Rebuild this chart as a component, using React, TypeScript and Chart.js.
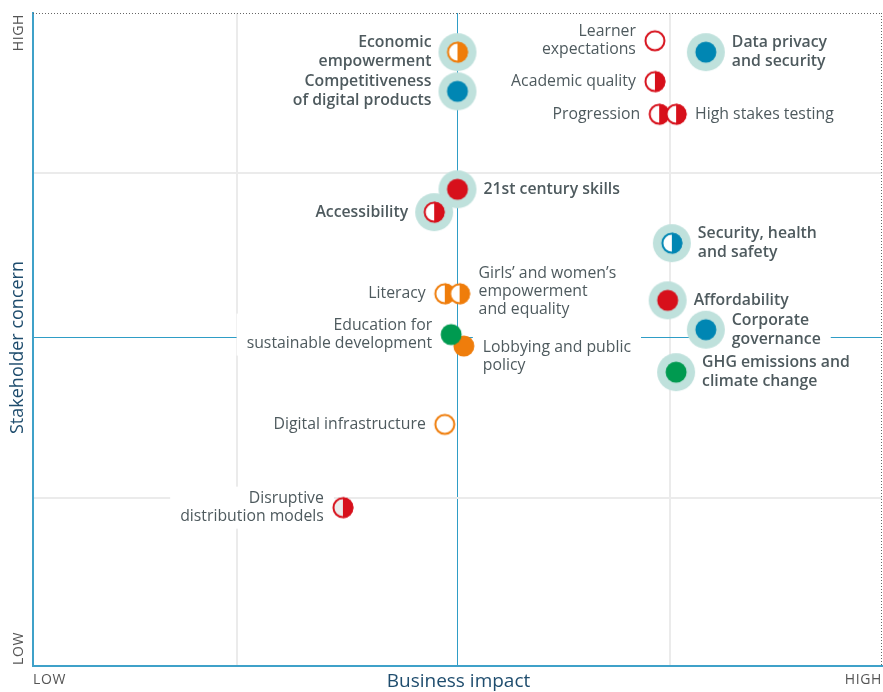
import React, { useEffect, useRef } from "react";
import { Chart, registerables } from "chart.js";

Chart.register(...registerables);

// ---- data ----
const topics: string[] = [
  "Economic\nempowerment",
  "Competitiveness\nof digital products",
  "Learner\nexpectations",
  "Data privacy\nand security",
  "Academic quality",
  "Progression",
  "High stakes testing",
  "21st century skills",
  "Accessibility",
  "Security, health\nand safety",
  "Literacy",
  "Girls’ and women’s\nempowerment\nand equality",
  "Affordability",
  "Corporate\ngovernance",
  "Lobbying and public\npolicy",
  "Education for\nsustainable development",
  "GHG emissions and\nclimate change",
  "Digital infrastructure",
  "Disruptive\ndistribution models",
];
const businessImpact: number[] = [
  2.0, 2.0, 2.93, 3.17, 2.93, 2.95, 3.03, 2.0, 1.89, 3.01, 1.94, 2.01, 2.99, 3.17, 2.03, 1.97, 3.03, 1.94, 1.46,
];
const stakeholderConcern: number[] = [
  3.76, 3.52, 3.83, 3.76, 3.58, 3.38, 3.38, 2.92, 2.78, 2.59, 2.28, 2.28, 2.24, 2.06, 1.96, 2.03, 1.80, 1.48, 0.97,
];
// theme of each topic
const topicTheme: string[] = [
  "orange", "blue", "red", "blue", "red", "red", "red", "red", "red", "blue",
  "orange", "orange", "red", "blue", "orange", "green", "green", "orange", "red",
];
// marker kind
const topicMarker: string[] = [
  "half", "full", "hollow", "full", "half", "half", "half", "full", "half", "half",
  "half", "half", "full", "full", "full", "full", "full", "hollow", "half",
];
// material (priority) topics
const topicPriority: boolean[] = [
  true, true, false, true, false, false, false, true, true, true,
  false, false, true, true, false, false, true, false, false,
];
// side of the label relative to the marker
const labelSide: string[] = [
  "left", "left", "left", "right", "left", "left", "right", "right", "left", "right",
  "left", "right", "right", "right", "right", "left", "right", "left", "left",
];
const labelShift: number[] = [
  0, 0, 0, 0, 0, 0, 0, 0, 0, 0, 0, -2, 0, 0, 10, 0, 0, 0, 0,
];
const xGridValues: number[] = [0, 0.963, 2, 3, 4];
const yGridValues: number[] = [0, 1.03, 2.015, 3.02, 4];

// ---- styles ----
const THEME: Record<string, string> = {
  red: "#d7101b",
  orange: "#ef7d0b",
  blue: "#0086b3",
  green: "#009a50",
};
const HALO = "#bfe1dc";
const GRID_GRAY = "#ebebeb";
const CENTER_BLUE = "#2f9dc6";
const TEXT = "#4e5a5e";
const FONT = "'Open Sans', 'Noto Sans', sans-serif";
const W = 883;
const H = 692;

function makeMarker(color: string, kind: string, halo: boolean, leftFill: string): HTMLCanvasElement {
  const size = halo ? 40 : 24;
  const c = document.createElement("canvas");
  c.width = size;
  c.height = size;
  const g = c.getContext("2d")!;
  const m = size / 2;
  if (halo) {
    g.beginPath();
    g.arc(m, m, 19, 0, Math.PI * 2);
    g.fillStyle = HALO;
    g.fill();
  }
  if (kind === "full") {
    g.beginPath();
    g.arc(m, m, 10.5, 0, Math.PI * 2);
    g.fillStyle = color;
    g.fill();
  } else if (kind === "hollow") {
    g.beginPath();
    g.arc(m, m, 9.5, 0, Math.PI * 2);
    g.fillStyle = "#ffffff";
    g.fill();
    g.lineWidth = 2;
    g.strokeStyle = color;
    g.stroke();
  } else {
    g.beginPath();
    g.arc(m, m, 9.5, 0, Math.PI * 2);
    g.fillStyle = leftFill;
    g.fill();
    g.beginPath();
    g.moveTo(m, m);
    g.arc(m, m, 10.5, -Math.PI / 2, Math.PI / 2);
    g.closePath();
    g.fillStyle = color;
    g.fill();
    g.beginPath();
    g.arc(m, m, 9.5, 0, Math.PI * 2);
    g.lineWidth = 2;
    g.strokeStyle = color;
    g.stroke();
  }
  return c;
}

function labelFont(i: number) {
  return topicPriority[i] ? `600 15.8px ${FONT}` : `15.8px ${FONT}`;
}
function lineH(i: number) {
  return topicPriority[i] ? 19 : 18;
}

function labelBoxes(chart: any) {
  const meta = chart.getDatasetMeta(0);
  const ctx = chart.ctx;
  const out: any[] = [];
  topics.forEach((t, i) => {
    const el = meta.data[i];
    if (!el) return;
    const lines = t.split("\n");
    ctx.font = labelFont(i);
    const w = Math.max(...lines.map((l) => ctx.measureText(l).width));
    const off = topicPriority[i] ? 26 : 19;
    const lh = lineH(i);
    const h = lines.length * lh;
    const top = el.y - h / 2 + labelShift[i];
    const right = labelSide[i] === "right";
    const x = right ? el.x + off : el.x - off;
    const left = right ? x : x - w;
    out.push({ i, lines, x, top, lh, w, h, left, right });
  });
  return out;
}

const labelPlugin = {
  id: "topicLabels",
  beforeDatasetsDraw(chart: any) {
    const ctx = chart.ctx;
    ctx.save();
    ctx.fillStyle = "#ffffff";
    labelBoxes(chart).forEach((b) => {
      ctx.fillRect(b.left - 10, b.top - 3, b.w + 20, b.h + 6);
    });
    ctx.restore();
  },
  afterDatasetsDraw(chart: any) {
    const ctx = chart.ctx;
    ctx.save();
    ctx.fillStyle = TEXT;
    ctx.textBaseline = "middle";
    labelBoxes(chart).forEach((b) => {
      ctx.font = labelFont(b.i);
      ctx.textAlign = b.right ? "left" : "right";
      b.lines.forEach((l: string, k: number) => {
        ctx.fillText(l, b.x, b.top + b.lh * (k + 0.5));
      });
    });
    ctx.restore();
  },
  afterDraw(chart: any) {
    const { ctx, chartArea } = chart;
    const { left, right, top, bottom } = chartArea;
    ctx.save();
    // dotted top & right frame
    ctx.strokeStyle = "#666666";
    ctx.lineWidth = 1;
    ctx.setLineDash([1, 2]);
    ctx.beginPath();
    ctx.moveTo(left, top + 0.5);
    ctx.lineTo(right, top + 0.5);
    ctx.moveTo(right - 0.5, top);
    ctx.lineTo(right - 0.5, bottom);
    ctx.stroke();
    ctx.setLineDash([]);

    // axis end labels
    ctx.fillStyle = "#555555";
    ctx.font = `14px ${FONT}`;
    try {
      (ctx as any).letterSpacing = "0.6px";
    } catch (e) {}
    ctx.textBaseline = "middle";
    ctx.textAlign = "left";
    ctx.fillText("LOW", left, 680);
    ctx.textAlign = "right";
    ctx.fillText("HIGH", right, 680);

    ctx.save();
    ctx.translate(19, top);
    ctx.rotate(-Math.PI / 2);
    ctx.textAlign = "right";
    ctx.fillText("HIGH", -1, 0);
    ctx.restore();
    ctx.save();
    ctx.translate(19, bottom);
    ctx.rotate(-Math.PI / 2);
    ctx.textAlign = "left";
    ctx.fillText("LOW", 1, 0);
    ctx.restore();
    try {
      (ctx as any).letterSpacing = "0px";
    } catch (e) {}

    // axis titles
    ctx.fillStyle = "#1f4d6e";
    ctx.font = `19px ${FONT}`;
    ctx.textAlign = "center";
    ctx.fillText("Business impact", (left + right) / 2 + 1, 682);
    ctx.font = `18px ${FONT}`;
    ctx.save();
    ctx.translate(18, (top + bottom) / 2 + 8);
    ctx.rotate(-Math.PI / 2);
    ctx.fillText("Stakeholder concern", 0, 0);
    ctx.restore();
    ctx.restore();
  },
};

function gridColor(idx: number) {
  if (idx === 0 || idx === 4) return "rgba(0,0,0,0)";
  return idx === 2 ? CENTER_BLUE : GRID_GRAY;
}
function gridWidth(idx: number) {
  return idx === 2 ? 1 : 2;
}

export default function App() {
  const ref = useRef<HTMLCanvasElement | null>(null);
  useEffect(() => {
    if (!ref.current) return;
    const styles = topics.map((_, i) =>
      makeMarker(
        THEME[topicTheme[i]],
        topicMarker[i],
        topicPriority[i],
        i === topics.length - 1 ? "#ececec" : "#ffffff"
      )
    );
    const chart = new Chart(ref.current, {
      type: "scatter",
      data: {
        datasets: [
          {
            label: "Topics",
            data: topics.map((_, i) => ({ x: businessImpact[i], y: stakeholderConcern[i] })),
            pointStyle: styles as any,
            pointRadius: 10,
            clip: false as any,
          },
        ],
      },
      options: {
        animation: false,
        responsive: false,
        events: [],
        layout: { autoPadding: false, padding: { left: 33, right: 1, top: 13, bottom: 26 } },
        plugins: { legend: { display: false }, tooltip: { enabled: false } },
        scales: {
          x: {
            type: "linear",
            min: 0,
            max: 4,
            afterBuildTicks: (s: any) => {
              s.ticks = xGridValues.map((v) => ({ value: v }));
            },
            ticks: { display: false },
            border: { display: true, color: "#3fa1c9", width: 2 },
            grid: {
              drawTicks: false,
              color: (c: any) => gridColor(c.index),
              lineWidth: (c: any) => gridWidth(c.index),
            },
          },
          y: {
            type: "linear",
            min: 0,
            max: 4,
            afterBuildTicks: (s: any) => {
              s.ticks = yGridValues.map((v) => ({ value: v }));
            },
            ticks: { display: false },
            border: { display: true, color: "#3fa1c9", width: 2 },
            grid: {
              drawTicks: false,
              color: (c: any) => gridColor(c.index),
              lineWidth: (c: any) => gridWidth(c.index),
            },
          },
        },
      },
      plugins: [labelPlugin],
    });
    return () => chart.destroy();
  }, []);
  return (
    <div style={{ position: "fixed", left: 0, top: 0, width: W, height: H, background: "#fff" }}>
      <canvas ref={ref} width={W} height={H} style={{ display: "block", width: W, height: H }} />
    </div>
  );
}
